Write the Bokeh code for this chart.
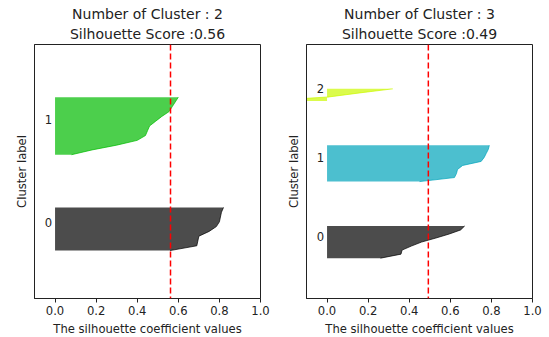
import numpy as np
from bokeh.plotting import figure
from bokeh.layouts import row
from bokeh.models import Range1d, FixedTicker, Span, Title, PrintfTickFormatter
from bokeh.core.properties import value
from bokeh.embed import file_html
from bokeh.resources import INLINE

FONT = "DejaVu Sans"

# ---- data ----
x_ticks = [0.0, 0.2, 0.4, 0.6, 0.8, 1.0]

# 2 clusters: sorted silhouette values per cluster
sil_k2_c0 = [0.56, 0.69, 0.695, 0.70, 0.75, 0.785, 0.80, 0.805, 0.81, 0.82]
sil_k2_c1 = [0.08, 0.18, 0.30, 0.40, 0.44, 0.45, 0.46, 0.49, 0.52, 0.555, 0.57, 0.585, 0.60]
score_k2 = 0.562
colors_k2 = ["#000000", "#00bb00"]

# 3 clusters
sil_k3_c0 = [0.26, 0.36, 0.365, 0.41, 0.46, 0.53, 0.595, 0.65, 0.67]
sil_k3_c1 = [0.45, 0.62, 0.63, 0.635, 0.66, 0.75, 0.765, 0.775, 0.785, 0.79]
sil_k3_c2 = [-0.30, 0.01, 0.16, 0.32]
score_k3 = 0.493
colors_k3 = ["#000000", "#00a4bb", "#ccf900"]


def make_plot(clusters, colors, score, border_right):
    k = len(clusters)
    n = sum(len(c) for c in clusters)
    p = figure(
        frame_width=226, frame_height=254,
        min_border_left=34, min_border_right=border_right,
        min_border_top=44, min_border_bottom=39,
        x_range=Range1d(-0.1, 1.0), y_range=Range1d(0, n + (k + 1) * 10),
        output_backend="svg", toolbar_location=None, title=None,
    )
    p.background_fill_color = "white"
    p.border_fill_color = "white"
    p.outline_line_color = "#222222"
    p.outline_line_width = 1
    p.xgrid.visible = False
    p.ygrid.visible = False

    y_lower = 10
    for i, vals in enumerate(clusters):
        size = len(vals)
        ys = np.arange(y_lower, y_lower + size)
        p.harea(y=ys, x1=0, x2=np.array(vals), fill_color=colors[i], fill_alpha=0.7)
        p.line(x=np.array(vals), y=ys, line_color=colors[i], line_alpha=0.7, line_width=1)
        p.text(x=[-0.05], y=[y_lower + 0.5 * size], text=[str(i)],
               text_font=value(FONT), text_font_size="11.6px",
               text_baseline="middle", text_align="left", text_color="#222222",
               y_offset=-4)
        y_lower += size + 10

    p.add_layout(Span(location=score, dimension="height", line_color="red",
                      line_dash="6 3", line_width=1.5))

    xa = p.xaxis[0]
    xa.ticker = FixedTicker(ticks=x_ticks)
    xa.formatter = PrintfTickFormatter(format="%.1f")
    xa.axis_label = "The silhouette coefficient values"
    xa.axis_label_text_font = FONT
    xa.axis_label_text_font_size = "11.6px"
    xa.axis_label_text_font_style = "normal"
    xa.axis_label_text_color = "#222222"
    xa.axis_label_standoff = 4
    xa.major_label_text_font = FONT
    xa.major_label_text_font_size = "11.6px"
    xa.major_label_text_color = "#222222"
    xa.major_label_standoff = 3
    xa.major_tick_out = 4
    xa.major_tick_in = 0
    xa.minor_tick_line_color = None
    xa.axis_line_color = "#222222"
    xa.major_tick_line_color = "#222222"

    ya = p.yaxis[0]
    ya.ticker = FixedTicker(ticks=[])
    ya.axis_label = "Cluster label"
    ya.axis_label_text_font = FONT
    ya.axis_label_text_font_size = "11.6px"
    ya.axis_label_text_font_style = "normal"
    ya.axis_label_text_color = "#222222"
    ya.axis_label_standoff = 6
    ya.major_tick_out = 0
    ya.major_tick_in = 0
    ya.major_label_text_font_size = "0px"
    ya.minor_tick_line_color = None
    ya.axis_line_color = "#222222"

    p.add_layout(Title(text=f"Silhouette Score :{score:.2f}", align="center",
                       text_font=FONT, text_font_size="14px", text_font_style="normal",
                       text_color="#222222", standoff=5), "above")
    p.add_layout(Title(text=f"Number of Cluster : {k}", align="center",
                       text_font=FONT, text_font_size="14px", text_font_style="normal",
                       text_color="#222222", standoff=0), "above")
    return p


p1 = make_plot([sil_k2_c0, sil_k2_c1], colors_k2, score_k2, 12)
p2 = make_plot([sil_k3_c0, sil_k3_c1, sil_k3_c2], colors_k3, score_k3, 17)
layout = row(p1, p2)

open("out.html", "w").write(file_html(layout, INLINE))
